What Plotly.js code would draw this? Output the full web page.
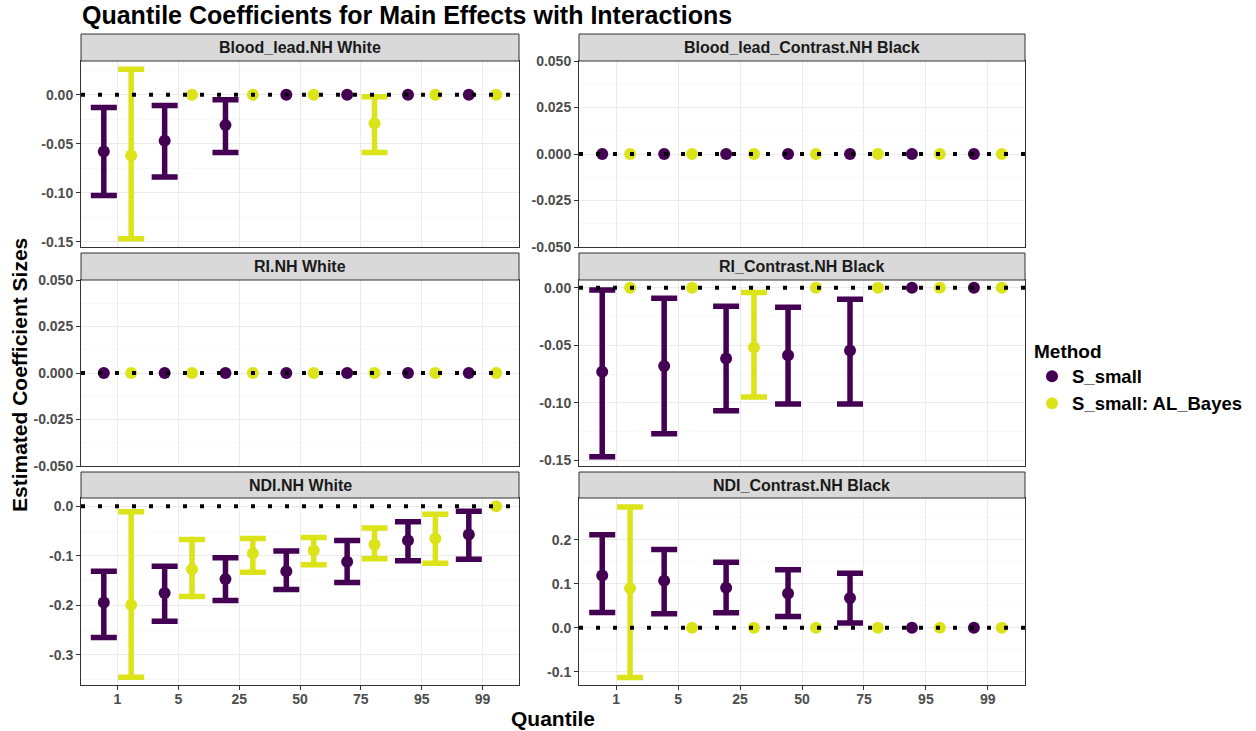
<!DOCTYPE html>
<html><head><meta charset="utf-8">
<script src="https://cdn.plot.ly/plotly-3.0.1.min.js"></script>
<style>html,body{margin:0;padding:0;background:#fff}#chart{width:1256px;height:731px}</style>
</head><body><div id="chart"></div>
<script>
const quantiles = ["1","5","25","50","75","95","99"];
const methods = ["S_small", "S_small: AL_Bayes"];
const panelTitles = ["Blood_lead.NH White","Blood_lead_Contrast.NH Black","RI.NH White","RI_Contrast.NH Black","NDI.NH White","NDI_Contrast.NH Black"];
const noInterval = [null,null,null,null,null,null,null];

// Blood_lead.NH White
const bloodWhiteSmallEst = [-0.058,-0.047,-0.031,0,0,0,0];
const bloodWhiteSmallLo  = [-0.103,-0.084,-0.059,null,null,null,null];
const bloodWhiteSmallHi  = [-0.013,-0.011,-0.005,null,null,null,null];
const bloodWhiteBayesEst = [-0.062,0,0,0,-0.029,0,0];
const bloodWhiteBayesLo  = [-0.147,null,null,null,-0.059,null,null];
const bloodWhiteBayesHi  = [0.026,null,null,null,-0.002,null,null];
// Blood_lead_Contrast.NH Black
const bloodBlackSmallEst = [0,0,0,0,0,0,0];
const bloodBlackBayesEst = [0,0,0,0,0,0,0];
// RI.NH White
const riWhiteSmallEst = [0,0,0,0,0,0,0];
const riWhiteBayesEst = [0,0,0,0,0,0,0];
// RI_Contrast.NH Black
const riBlackSmallEst = [-0.073,-0.068,-0.0615,-0.0586,-0.0545,0,0];
const riBlackSmallLo  = [-0.147,-0.127,-0.107,-0.101,-0.101,null,null];
const riBlackSmallHi  = [-0.002,-0.009,-0.016,-0.017,-0.010,null,null];
const riBlackBayesEst = [0,0,-0.052,0,0,0,0];
const riBlackBayesLo  = [null,null,-0.095,null,null,null,null];
const riBlackBayesHi  = [null,null,-0.004,null,null,null,null];
// NDI.NH White
const ndiWhiteSmallEst = [-0.194,-0.175,-0.147,-0.131,-0.112,-0.069,-0.057];
const ndiWhiteSmallLo  = [-0.265,-0.232,-0.190,-0.168,-0.154,-0.110,-0.107];
const ndiWhiteSmallHi  = [-0.131,-0.121,-0.104,-0.090,-0.069,-0.031,-0.010];
const ndiWhiteBayesEst = [-0.199,-0.127,-0.095,-0.089,-0.077,-0.065,0];
const ndiWhiteBayesLo  = [-0.345,-0.182,-0.133,-0.118,-0.106,-0.115,null];
const ndiWhiteBayesHi  = [-0.011,-0.067,-0.065,-0.063,-0.044,-0.016,null];
// NDI_Contrast.NH Black
const ndiBlackSmallEst = [0.119,0.107,0.091,0.078,0.068,0,0];
const ndiBlackSmallLo  = [0.035,0.032,0.034,0.026,0.011,null,null];
const ndiBlackSmallHi  = [0.212,0.178,0.149,0.132,0.124,null,null];
const ndiBlackBayesEst = [0.090,0,0,0,0,0,0];
const ndiBlackBayesLo  = [-0.113,null,null,null,null,null,null];
const ndiBlackBayesHi  = [0.275,null,null,null,null,null,null];

// y tick values / labels
const ticks005 = [-0.15,-0.10,-0.05,0.00];
const labels005 = ["-0.15","-0.10","-0.05","0.00"];
const ticksZero = [-0.050,-0.025,0.000,0.025,0.050];
const labelsZero = ["-0.050","-0.025","0.000","0.025","0.050"];
const ticksNdiWhite = [-0.3,-0.2,-0.1,0.0];
const labelsNdiWhite = ["-0.3","-0.2","-0.1","0.0"];
const ticksNdiBlack = [-0.1,0.0,0.1,0.2];
const labelsNdiBlack = ["-0.1","0.0","0.1","0.2"];

const panels = [
  {title: panelTitles[0], series: [[bloodWhiteSmallEst,bloodWhiteSmallLo,bloodWhiteSmallHi],[bloodWhiteBayesEst,bloodWhiteBayesLo,bloodWhiteBayesHi]], tv: ticks005, tt: labels005, range: [-0.1555,0.0345], minor: 0.025},
  {title: panelTitles[1], series: [[bloodBlackSmallEst,noInterval,noInterval],[bloodBlackBayesEst,noInterval,noInterval]], tv: ticksZero, tt: labelsZero, range: [-0.05,0.05], minor: 0.0125},
  {title: panelTitles[2], series: [[riWhiteSmallEst,noInterval,noInterval],[riWhiteBayesEst,noInterval,noInterval]], tv: ticksZero, tt: labelsZero, range: [-0.05,0.05], minor: 0.0125},
  {title: panelTitles[3], series: [[riBlackSmallEst,riBlackSmallLo,riBlackSmallHi],[riBlackBayesEst,riBlackBayesLo,riBlackBayesHi]], tv: ticks005, tt: labels005, range: [-0.155,0.0068], minor: 0.025},
  {title: panelTitles[4], series: [[ndiWhiteSmallEst,ndiWhiteSmallLo,ndiWhiteSmallHi],[ndiWhiteBayesEst,ndiWhiteBayesLo,ndiWhiteBayesHi]], tv: ticksNdiWhite, tt: labelsNdiWhite, range: [-0.3608,0.0168], minor: 0.05},
  {title: panelTitles[5], series: [[ndiBlackSmallEst,ndiBlackSmallLo,ndiBlackSmallHi],[ndiBlackBayesEst,ndiBlackBayesLo,ndiBlackBayesHi]], tv: ticksNdiBlack, tt: labelsNdiBlack, range: [-0.1302,0.2955], minor: 0.05}
];

const colors = ["#440154", "#DCE319"];
const W = 1256, H = 731;
const colPx = [[81,519],[579,1025]];
const rowPx = [[61,247],[280,466],[498,685]];
const stripTop = [34,253,472];
const dodge = 0.225;
const FONT = "Liberation Sans, Arial, sans-serif";

const traces = [];
const layout = {
  width: W, height: H, margin: {l:0,r:0,t:0,b:0},
  paper_bgcolor: "#fff", plot_bgcolor: "#fff",
  showlegend: true,
  legend: {x: 1032/W, y: 1-333/H, xanchor: "left", yanchor: "top",
    title: {text: "<b>Method</b>", font: {family: FONT, size: 19, color: "#000"}},
    font: {family: FONT, size: 18.5, color: "#000", weight: "bold"},
    itemwidth: 30, tracegroupgap: 0, bgcolor: "rgba(0,0,0,0)"},
  shapes: [], annotations: []
};

panels.forEach((p, i) => {
  const r = Math.floor(i/2), c = i % 2;
  const sx = i === 0 ? "" : String(i+1);
  const xName = "x" + sx, yName = "y" + sx;
  const xd = [colPx[c][0]/W, colPx[c][1]/W];
  const yd = [1 - rowPx[r][1]/H, 1 - rowPx[r][0]/H];
  const bottom = r === 2;
  layout["xaxis" + sx] = {
    domain: xd, anchor: yName, range: [-0.6, 6.6],
    tickmode: "array", tickvals: quantiles.map((q, k) => k), ticktext: quantiles,
    showticklabels: bottom, ticks: bottom ? "outside" : "", ticklen: 4, tickcolor: "#333",
    ticklabelstandoff: -3,
    tickfont: {family: FONT, size: 14, color: "#4d4d4d", weight: "bold"},
    showgrid: true, gridcolor: "#ebebeb", gridwidth: 1, zeroline: false,
    showline: true, mirror: true, linecolor: "#333", linewidth: 1, fixedrange: true
  };
  layout["yaxis" + sx] = {
    domain: yd, anchor: xName, range: p.range,
    tickmode: "array", tickvals: p.tv, ticktext: p.tt,
    ticks: "outside", ticklen: 4, tickcolor: "#333",
    tickfont: {family: FONT, size: 14, color: "#4d4d4d", weight: "bold"},
    showgrid: true, gridcolor: "#ebebeb", gridwidth: 1, zeroline: false,
    minor: {dtick: p.minor, tick0: 0, showgrid: true, gridcolor: "#f4f4f4", gridwidth: 0.6, ticks: ""},
    showline: true, mirror: true, linecolor: "#333", linewidth: 1, fixedrange: true
  };
  // strip
  layout.shapes.push({type: "rect", xref: "paper", yref: "paper",
    x0: xd[0], x1: xd[1], y0: 1 - rowPx[r][0]/H, y1: 1 - stripTop[r]/H,
    fillcolor: "#d9d9d9", line: {color: "#333", width: 1}, layer: "above"});
  layout.annotations.push({xref: "paper", yref: "paper", x: (xd[0]+xd[1])/2,
    y: 1 - (rowPx[r][0] + stripTop[r])/2/H, xanchor: "center", yanchor: "middle",
    text: "<b>" + p.title + "</b>", showarrow: false,
    font: {family: FONT, size: 16, color: "#1a1a1a"}});
  p.series.forEach((s, m) => {
    const est = s[0], lo = s[1], hi = s[2];
    traces.push({
      type: "scatter", mode: "markers", xaxis: xName, yaxis: yName,
      x: quantiles.map((q, k) => k + (m === 0 ? -dodge : dodge)),
      y: est, name: methods[m], legendgroup: methods[m], showlegend: i === 0,
      marker: {color: colors[m], size: 12},
      error_y: {type: "data", symmetric: false,
        array: hi.map((h, k) => h === null ? NaN : h - est[k]),
        arrayminus: lo.map((l, k) => l === null ? NaN : est[k] - l),
        color: colors[m], thickness: 5.5, width: 13},
      hoverinfo: "skip"
    });
  });
  // dotted zero line
  layout.shapes.push({type: "line", xref: xName + " domain", yref: yName,
    x0: 0, x1: 1, y0: 0, y1: 0, line: {color: "#000", width: 4, dash: "4px,13px"}, layer: "above"});
});

layout.annotations.push({xref: "paper", yref: "paper", x: 80/W, y: 1 - 15/H, xanchor: "left", yanchor: "middle",
  text: "<b>Quantile Coefficients for Main Effects with Interactions</b>", showarrow: false,
  font: {family: FONT, size: 25, color: "#000"}});
layout.annotations.push({xref: "paper", yref: "paper", x: 20/W, y: 1 - 375/H, xanchor: "center", yanchor: "middle",
  text: "<b>Estimated Coefficient Sizes</b>", textangle: -90, showarrow: false,
  font: {family: FONT, size: 21, color: "#000"}});
layout.annotations.push({xref: "paper", yref: "paper", x: 553/W, y: 1 - 718/H, xanchor: "center", yanchor: "middle",
  text: "<b>Quantile</b>", showarrow: false,
  font: {family: FONT, size: 21, color: "#000"}});

Plotly.newPlot("chart", traces, layout, {displayModeBar: false, staticPlot: true});
</script>
</body></html>
